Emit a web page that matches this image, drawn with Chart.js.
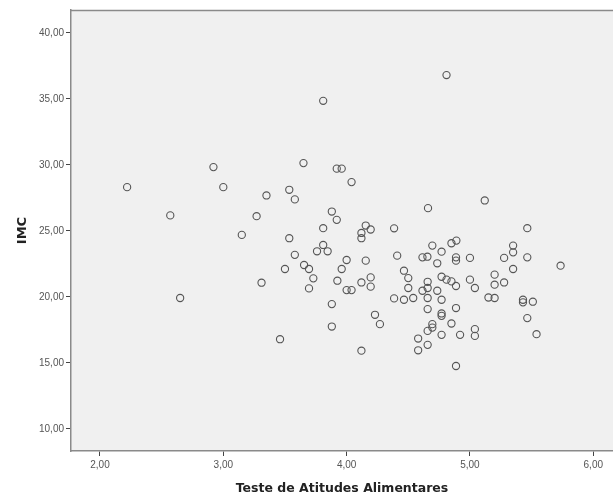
<!DOCTYPE html>
<html>
<head>
<meta charset="utf-8">
<script src="https://cdn.jsdelivr.net/npm/chart.js@4/dist/chart.umd.min.js"></script>
<style>
  html, body { margin: 0; padding: 0; background: #fff; }
  #wrap { width: 613px; height: 497px; }
</style>
</head>
<body>
<div id="wrap"><canvas id="myChart" width="613" height="497"></canvas></div>
<script>
// Datos (Teste de Atitudes Alimentares vs IMC)
const xValues = [
  2.22, 2.57, 2.65, 2.92, 3.00, 3.15, 3.27, 3.31, 3.35, 3.46,
  3.50, 3.535, 3.535, 3.58, 3.58, 3.65, 3.655, 3.695, 3.695, 3.73,
  3.76, 3.81, 3.81, 3.81, 3.846, 3.88, 3.88, 3.88, 3.92, 3.92,
  3.925, 3.96, 3.96, 4.00, 4.00, 4.04, 4.04, 4.12, 4.12, 4.12,
  4.12, 4.155, 4.155, 4.195, 4.195, 4.195, 4.23, 4.27, 4.385, 4.385,
  4.41, 4.465, 4.465, 4.50, 4.50, 4.54, 4.58, 4.58, 4.615, 4.615,
  4.655, 4.66, 4.657, 4.657, 4.657, 4.657, 4.657, 4.657, 4.695, 4.695,
  4.695, 4.735, 4.735, 4.77, 4.77, 4.77, 4.77, 4.77, 4.77, 4.81,
  4.81, 4.85, 4.85, 4.85, 4.89, 4.887, 4.887, 4.887, 4.887, 4.887,
  4.92, 5.00, 5.00, 5.04, 5.04, 5.04, 5.12, 5.15, 5.20, 5.20,
  5.20, 5.277, 5.277, 5.35, 5.35, 5.35, 5.43, 5.43, 5.465, 5.465,
  5.465, 5.51, 5.54, 5.735
];
const yValues = [
  28.32, 26.18, 19.92, 29.84, 28.32, 24.70, 26.12, 21.08, 27.69, 16.80,
  22.12, 28.12, 24.45, 27.39, 23.19, 30.14, 22.42, 22.12, 20.65, 21.41,
  23.46, 34.86, 25.21, 23.94, 23.46, 26.47, 19.46, 17.76, 29.72, 25.84,
  21.23, 29.72, 22.12, 22.80, 20.52, 28.70, 20.52, 24.85, 24.45, 21.10,
  15.93, 25.41, 22.75, 25.11, 21.48, 20.78, 18.65, 17.94, 25.20, 19.89,
  23.13, 21.99, 19.79, 21.43, 20.68, 19.92, 16.85, 15.96, 23.00, 20.47,
  23.05, 26.73, 21.15, 20.68, 19.92, 19.08, 17.43, 16.37, 23.89, 17.94,
  17.68, 22.55, 20.47, 23.43, 21.53, 19.79, 18.75, 18.57, 17.13, 36.81,
  21.31, 24.07, 21.18, 17.99, 24.27, 23.00, 22.75, 20.83, 19.16, 14.77,
  17.13, 22.96, 21.31, 20.68, 17.56, 17.05, 27.31, 19.96, 21.69, 20.93,
  19.92, 22.96, 21.10, 23.89, 23.38, 22.12, 19.79, 19.59, 25.21, 23.00,
  18.40, 19.64, 17.18, 22.37
];
const xTicks = [2, 3, 4, 5, 6];
const yTicks = [10, 15, 20, 25, 30, 35, 40];

const points = xValues.map((x, i) => ({ x: x, y: yValues[i] }));

// Formato con coma decimal
const fmt = v => v.toFixed(2).replace('.', ',');

// Fondo gris del área de trazado y borde superior
const plotBg = {
  id: 'plotBg',
  beforeDraw(chart) {
    const { ctx, chartArea: a } = chart;
    ctx.save();
    ctx.fillStyle = '#f0f0f0';
    ctx.fillRect(a.left, a.top, a.right - a.left, a.bottom - a.top);
    ctx.strokeStyle = '#8a8a8a';
    ctx.lineWidth = 1.5;
    ctx.beginPath();
    ctx.moveTo(a.left, a.top + 0.5);
    ctx.lineTo(a.right, a.top + 0.5);
    ctx.stroke();
    ctx.restore();
  }
};

const ctx = document.getElementById('myChart').getContext('2d');
new Chart(ctx, {
  type: 'scatter',
  data: {
    datasets: [{
      data: points,
      pointStyle: 'circle',
      pointRadius: 3.6,
      pointHoverRadius: 3.6,
      pointBorderWidth: 1.1,
      pointBorderColor: '#555555',
      pointBackgroundColor: 'rgba(0,0,0,0)'
    }]
  },
  options: {
    responsive: false,
    animation: false,
    layout: { autoPadding: false, padding: { top: 10, right: 0, left: 0, bottom: 0 } },
    plugins: {
      legend: { display: false },
      tooltip: { enabled: false }
    },
    scales: {
      x: {
        type: 'linear',
        min: 1.765,
        max: 6.16,
        afterBuildTicks: axis => { axis.ticks = xTicks.map(v => ({ value: v })); },
        afterFit: axis => { axis.height = 46; axis.paddingRight = 0; axis.paddingLeft = 0; },
        grid: { display: true, drawOnChartArea: false, drawTicks: true, tickLength: 5, color: '#444' },
        border: { display: true, color: '#8a8a8a', width: 1.5 },
        ticks: {
          callback: v => fmt(v),
          font: { family: 'Liberation Sans', size: 10 },
          color: '#555',
          padding: 3,
          maxRotation: 0
        },
        title: {
          display: true,
          text: 'Teste de Atitudes Alimentares',
          font: { family: 'DejaVu Sans', size: 12.5, weight: 'bold' },
          color: '#222',
          padding: { top: 4, bottom: 1 }
        }
      },
      y: {
        type: 'linear',
        min: 8.33,
        max: 41.74,
        afterBuildTicks: axis => { axis.ticks = yTicks.map(v => ({ value: v })); },
        afterFit: axis => { axis.width = 71; },
        grid: { display: true, drawOnChartArea: false, drawTicks: true, tickLength: 5, color: '#444' },
        border: { display: true, color: '#8a8a8a', width: 1.5 },
        ticks: {
          callback: v => fmt(v),
          font: { family: 'Liberation Sans', size: 10 },
          color: '#555',
          padding: 2
        },
        title: {
          display: true,
          text: 'IMC',
          font: { family: 'DejaVu Sans', size: 13, weight: 'bold' },
          color: '#222',
          padding: { top: 15, bottom: 4 }
        }
      }
    }
  },
  plugins: [plotBg]
});
</script>
</body>
</html>
